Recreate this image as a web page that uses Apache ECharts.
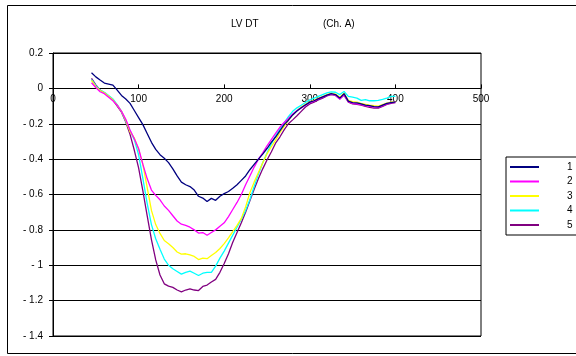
<!DOCTYPE html>
<html>
<head>
<meta charset="utf-8">
<script src="https://cdn.jsdelivr.net/npm/echarts@6/dist/echarts.min.js"></script>
<style>
  html, body { margin: 0; padding: 0; background: #fff; }
  #chart { width: 576px; height: 356px; }
</style>
</head>
<body>
<div id="chart"></div>
<script>
// Sample positions (ms) shared by all five traces
const positions = [45, 50, 55, 60, 65, 70, 75, 80, 85, 90, 95, 100, 105, 110, 115, 120, 125, 130, 135, 140,
  145, 150, 155, 160, 165, 170, 175, 180, 185, 190, 195, 200, 205, 210, 215, 220, 225, 230, 235, 240,
  245, 250, 255, 260, 265, 270, 275, 280, 285, 290, 295, 300, 305, 310, 315, 320, 325, 330, 335, 340,
  345, 350, 355, 360, 365, 370, 375, 380, 385, 390, 395, 400];

const seriesNames = ['1', '2', '3', '4', '5'];

const trace1 = [0.088, 0.065, 0.047, 0.030, 0.024, 0.018, -0.010, -0.040, -0.060, -0.085, -0.125, -0.165, -0.205, -0.255, -0.305, -0.345, -0.375, -0.395, -0.420, -0.455,
  -0.495, -0.530, -0.545, -0.555, -0.575, -0.610, -0.620, -0.640, -0.622, -0.633, -0.610, -0.595, -0.583, -0.565, -0.545, -0.520, -0.495, -0.460, -0.430, -0.400,
  -0.372, -0.340, -0.305, -0.275, -0.240, -0.205, -0.180, -0.150, -0.128, -0.110, -0.093, -0.078, -0.070, -0.058, -0.048, -0.038, -0.030, -0.035, -0.055, -0.030,
  -0.072, -0.080, -0.082, -0.088, -0.095, -0.098, -0.103, -0.105, -0.095, -0.085, -0.080, -0.076];

const trace2 = [0.032, 0.005, -0.019, -0.030, -0.050, -0.070, -0.095, -0.130, -0.175, -0.235, -0.285, -0.340, -0.430, -0.510, -0.575, -0.605, -0.630, -0.665, -0.690, -0.720,
  -0.750, -0.768, -0.775, -0.785, -0.800, -0.818, -0.815, -0.830, -0.815, -0.800, -0.780, -0.760, -0.725, -0.685, -0.645, -0.600, -0.545, -0.495, -0.445, -0.400,
  -0.365, -0.325, -0.290, -0.255, -0.220, -0.193, -0.170, -0.145, -0.125, -0.110, -0.095, -0.080, -0.072, -0.060, -0.050, -0.040, -0.032, -0.038, -0.060, -0.035,
  -0.075, -0.085, -0.088, -0.092, -0.098, -0.102, -0.105, -0.108, -0.098, -0.088, -0.082, -0.078];

const trace3 = [0.045, 0.010, -0.012, -0.025, -0.045, -0.065, -0.095, -0.130, -0.180, -0.246, -0.280, -0.345, -0.430, -0.560, -0.690, -0.770, -0.820, -0.860, -0.878, -0.900,
  -0.925, -0.937, -0.935, -0.942, -0.950, -0.968, -0.960, -0.963, -0.945, -0.928, -0.905, -0.878, -0.845, -0.810, -0.775, -0.735, -0.670, -0.590, -0.530, -0.475,
  -0.420, -0.370, -0.330, -0.293, -0.250, -0.215, -0.180, -0.150, -0.125, -0.105, -0.090, -0.076, -0.068, -0.055, -0.046, -0.035, -0.028, -0.032, -0.050, -0.028,
  -0.068, -0.075, -0.078, -0.085, -0.090, -0.095, -0.098, -0.100, -0.092, -0.083, -0.078, -0.075];

const trace4 = [0.050, 0.015, -0.010, -0.022, -0.040, -0.060, -0.092, -0.130, -0.185, -0.240, -0.290, -0.375, -0.510, -0.650, -0.770, -0.850, -0.910, -0.965, -1.000, -1.020,
  -1.035, -1.050, -1.040, -1.033, -1.045, -1.058, -1.045, -1.040, -1.040, -1.005, -0.960, -0.920, -0.875, -0.830, -0.785, -0.740, -0.690, -0.630, -0.555, -0.485,
  -0.420, -0.365, -0.315, -0.268, -0.230, -0.195, -0.160, -0.130, -0.110, -0.095, -0.080, -0.065, -0.055, -0.045, -0.035, -0.025, -0.020, -0.022, -0.035, -0.018,
  -0.045, -0.050, -0.055, -0.068, -0.063, -0.070, -0.070, -0.068, -0.062, -0.055, -0.045, -0.045];

const trace5 = [0.057, 0.020, -0.010, -0.025, -0.045, -0.065, -0.100, -0.135, -0.190, -0.260, -0.350, -0.450, -0.580, -0.720, -0.855, -0.970, -1.055, -1.105, -1.118, -1.125,
  -1.140, -1.150, -1.140, -1.133, -1.140, -1.143, -1.120, -1.112, -1.095, -1.080, -1.040, -0.990, -0.935, -0.870, -0.815, -0.760, -0.700, -0.635, -0.570, -0.510,
  -0.455, -0.405, -0.360, -0.310, -0.275, -0.235, -0.200, -0.178, -0.155, -0.130, -0.105, -0.088, -0.078, -0.065, -0.055, -0.042, -0.035, -0.040, -0.060, -0.038,
  -0.078, -0.088, -0.090, -0.095, -0.102, -0.108, -0.112, -0.112, -0.102, -0.090, -0.085, -0.080];

const traces = [trace1, trace2, trace3, trace4, trace5];
const colors = ['#000080', '#FF00FF', '#FFFF00', '#00FFFF', '#800080'];

const xTicks = { min: 0, max: 500, step: 100 };
const yTicks = { min: -1.4, max: 0.2, step: 0.2 };

const FONT = 'Liberation Sans, Arial, sans-serif';

// Plot box in pixels
const GRID = { left: 53, top: 53, right: 95, bottom: 20 };
const CHART_H = 356;

const chart = echarts.init(document.getElementById('chart'), null, { renderer: 'canvas' });

// Lift the horizontal axis from the bottom edge up to the y = 0 line
const plotH = CHART_H - GRID.top - GRID.bottom;
const zeroFromBottom = plotH * (0 - yTicks.min) / (yTicks.max - yTicks.min);

// Spreadsheet-style negative labels: "- 0.4"
const fmtY = v => {
  const r = Math.round(v * 10) / 10;
  return r < 0 ? '- ' + String(-r) : String(r);
};

chart.setOption({
  animation: false,
  backgroundColor: '#fff',
  title: [
    { text: 'LV DT', left: 226, top: 14, textStyle: { fontFamily: FONT, fontSize: 10, fontWeight: 'normal', color: '#000' } },
    { text: '(Ch. A)', left: 318, top: 14, textStyle: { fontFamily: FONT, fontSize: 10, fontWeight: 'normal', color: '#000' } }
  ],
  graphic: [{
    type: 'rect',
    silent: true,
    shape: { x: 7.5, y: 5.5, width: 572, height: 348 },
    style: { fill: 'none', stroke: '#000', lineWidth: 1 },
    z: 100
  }],
  legend: {
    orient: 'vertical',
    left: 506,
    top: 157,
    padding: [5, 50, 5, 4],
    itemGap: 4.5,
    itemWidth: 29,
    itemHeight: 2,
    icon: 'rect',
    borderColor: '#000',
    borderWidth: 1,
    textStyle: { fontFamily: FONT, fontSize: 10, color: '#000', padding: [0, 0, 0, 23] },
    data: seriesNames
  },
  grid: {
    left: GRID.left, top: GRID.top, right: GRID.right, bottom: GRID.bottom,
    show: true, borderColor: '#000', borderWidth: 1, backgroundColor: '#fff'
  },
  xAxis: {
    type: 'value',
    position: 'bottom',
    offset: -zeroFromBottom,
    min: xTicks.min, max: xTicks.max, interval: xTicks.step,
    axisLine: { onZero: false, lineStyle: { color: '#000', width: 1 } },
    axisTick: { show: true, inside: true, length: 4, lineStyle: { color: '#000' } },
    axisLabel: { fontFamily: FONT, fontSize: 10, color: '#000', margin: 6 },
    splitLine: { show: false }
  },
  yAxis: {
    type: 'value',
    min: yTicks.min, max: yTicks.max, interval: yTicks.step,
    axisLine: { show: true, lineStyle: { color: '#000', width: 1 } },
    axisTick: { show: true, length: 4, lineStyle: { color: '#000' } },
    axisLabel: { fontFamily: FONT, fontSize: 10, color: '#000', margin: 10, formatter: fmtY },
    splitLine: { show: true, lineStyle: { color: '#000', width: 1 } }
  },
  series: traces.map((t, i) => ({
    name: seriesNames[i],
    type: 'line',
    data: positions.map((x, j) => [x, t[j]]),
    showSymbol: false,
    symbol: 'none',
    lineStyle: { color: colors[i], width: 1.3 },
    itemStyle: { color: colors[i] },
    z: 2 + (4 - i)
  }))
});
</script>
</body>
</html>
